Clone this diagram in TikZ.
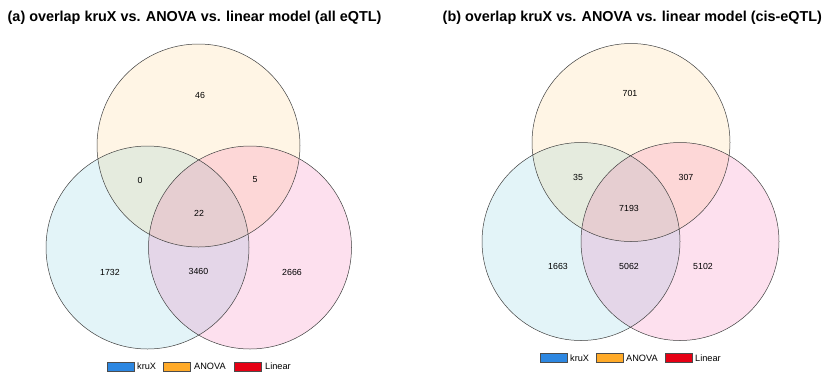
\documentclass[tikz,border=0pt]{standalone}
\usepackage{fontspec}
\setmainfont{Liberation Sans}
\definecolor{cA}{RGB}{30,170,200}
\definecolor{cB}{RGB}{255,165,0}
\definecolor{cC}{RGB}{240,0,120}
\definecolor{lA}{RGB}{45,135,225}
\definecolor{lB}{RGB}{255,170,40}
\definecolor{lC}{RGB}{230,0,20}
\begin{document}
\begin{tikzpicture}[x=1pt,y=-1pt,
  ring/.style={draw=black!75,line width=0.5pt},
  num/.style={font=\fontsize{8.8}{10}\selectfont,inner sep=0pt},
  ttl/.style={font=\fontsize{14.4}{16}\selectfont\bfseries,inner sep=0pt,anchor=west},
  legbox/.style={draw=black!70,line width=0.6pt,minimum width=27pt,minimum height=9pt,inner sep=0pt},
  legtxt/.style={font=\fontsize{9.2}{10}\selectfont,inner sep=0pt,anchor=west}]
\useasboundingbox (0,0) rectangle (830,384);
\fill[white] (0,0) rectangle (830,384);
% ---------- panel (a)
\node[ttl] (ta) at (7.5,18) {(a) overlap kruX vs. ANOVA vs. linear model (all eQTL)};
\fill[cA,fill opacity=0.12] (147.5,247.5) circle[radius=101.5pt];
\fill[cB,fill opacity=0.10] (198.5,145.5) circle[radius=101.5pt];
\fill[cC,fill opacity=0.12] (250,247.5) circle[radius=101.5pt];
\draw[ring] (147.5,247.5) circle[radius=101.5pt];
\draw[ring] (198.5,145.5) circle[radius=101.5pt];
\draw[ring] (250,247.5) circle[radius=101.5pt];
\node[num] (a1) at (200,95) {46};
\node[num] (a2) at (140,180) {0};
\node[num] (a3) at (255,180) {5};
\node[num] (a4) at (199,213) {22};
\node[num] (a5) at (110,272.5) {1732};
\node[num] (a6) at (198.5,271.5) {3460};
\node[num] (a7) at (292,272.5) {2666};
\node[legbox,fill=lA] (la1) at (120.5,366.5) {};
\node[legtxt] (lt1) at (137,366.5) {kruX};
\node[legbox,fill=lB] (la2) at (177,366.5) {};
\node[legtxt] (lt2) at (194,366.5) {ANOVA};
\node[legbox,fill=lC] (la3) at (248,366.5) {};
\node[legtxt] (lt3) at (265,366.5) {Linear};
% ---------- panel (b)
\node[ttl] (tb) at (442.5,18) {(b) overlap kruX vs. ANOVA vs. linear model (cis-eQTL)};
\fill[cA,fill opacity=0.12] (581,241.5) circle[radius=99pt];
\fill[cB,fill opacity=0.10] (631,142.5) circle[radius=99pt];
\fill[cC,fill opacity=0.12] (680,241.5) circle[radius=99pt];
\draw[ring] (581,241.5) circle[radius=99pt];
\draw[ring] (631,142.5) circle[radius=99pt];
\draw[ring] (680,241.5) circle[radius=99pt];
\node[num] (b1) at (630,93) {701};
\node[num] (b2) at (578,177) {35};
\node[num] (b3) at (686,177) {307};
\node[num] (b4) at (629,208) {7193};
\node[num] (b5) at (558,266) {1663};
\node[num] (b6) at (629,266) {5062};
\node[num] (b7) at (703,266) {5102};
\node[legbox,fill=lA] (lb1) at (554,358) {};
\node[legtxt] (mt1) at (570,358) {kruX};
\node[legbox,fill=lB] (lb2) at (610,358) {};
\node[legtxt] (mt2) at (626,358) {ANOVA};
\node[legbox,fill=lC] (lb3) at (678.5,358) {};
\node[legtxt] (mt3) at (695,358) {Linear};
\end{tikzpicture}
\end{document}
